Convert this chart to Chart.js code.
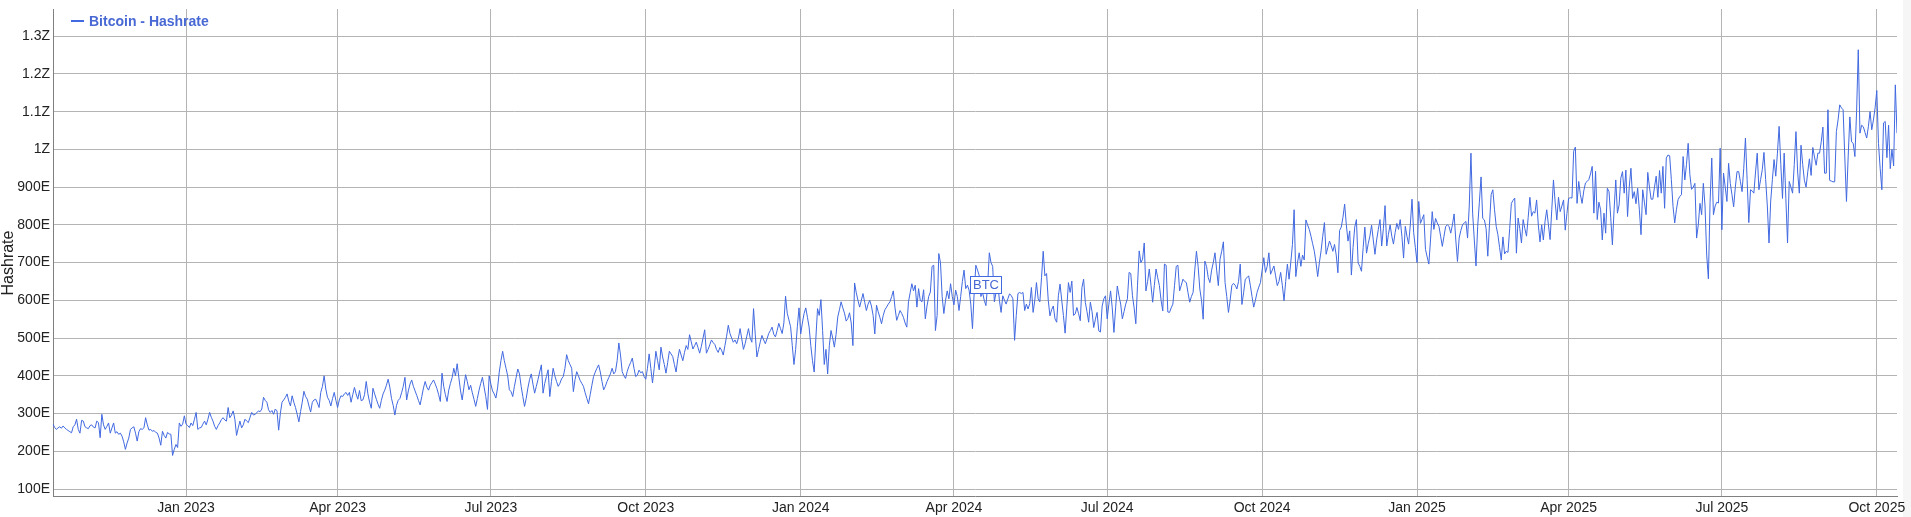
<!DOCTYPE html>
<html><head><meta charset="utf-8">
<script src="https://cdn.jsdelivr.net/npm/chart.js@4.4.1/dist/chart.umd.min.js"></script>
<style>html,body{margin:0;padding:0;background:#fff;overflow:hidden}canvas{display:block}</style>
</head><body>
<canvas id="c" width="1911" height="517"></canvas>
<script>
const startDate = "2022-10-14";
const seriesName = "Bitcoin - Hashrate";
const axisTitle = "Hashrate";
const tickDates = ["2023-01-01","2023-04-01","2023-07-01","2023-10-01","2024-01-01","2024-04-01","2024-07-01","2024-10-01","2025-01-01","2025-04-01","2025-07-01","2025-10-01"];
const tickLabels = ["Jan 2023","Apr 2023","Jul 2023","Oct 2023","Jan 2024","Apr 2024","Jul 2024","Oct 2024","Jan 2025","Apr 2025","Jul 2025","Oct 2025"];
const yTicks = [100,200,300,400,500,600,700,800,900,1000,1100,1200,1300];
const yTickLabels = ["100E","200E","300E","400E","500E","600E","700E","800E","900E","1Z","1.1Z","1.2Z","1.3Z"];
const markerDate = "2024-04-20";
const markerValue = 642;
const markerText = "BTC";

const hashrate2022 = [
272,263,258,262,265,261,267,262,258,255,
252,249,265,270,285,258,248,282,280,265,
262,260,268,270,264,262,280,276,236,298,
270,258,266,275,248,262,275,248,252,245,
248,240,225,205,222,235,258,262,265,248,
227,252,260,258,262,289,270,256,258,253,
255,250,248,235,216,253,242,235,250,246,
245,189,205,218,210,275,266,272,294];

const hashrate2023 = [
272,268,263,275,268,285,303,258,262,263,
272,280,270,285,303,290,280,266,258,268,
275,284,289,283,280,316,289,296,307,285,
242,262,280,262,270,285,280,276,290,303,
296,298,302,307,305,312,343,335,330,310,
303,308,298,312,307,256,300,330,336,343,
352,333,320,347,330,316,298,278,305,330,
359,345,338,320,304,330,336,338,328,316,
356,372,400,365,343,335,320,340,356,335,
316,336,347,345,352,356,348,356,330,350,
369,352,338,361,334,336,350,385,352,330,
314,367,352,338,325,314,335,352,362,375,
391,370,340,322,296,322,335,340,355,372,
396,336,360,378,389,372,360,348,335,323,
345,368,385,370,362,375,382,389,378,366,
350,332,407,372,350,332,362,380,395,420,
400,432,395,360,336,370,403,385,363,375,
355,338,319,340,362,380,396,370,345,311,
400,378,360,352,341,368,410,440,465,440,
420,400,363,358,345,372,395,418,405,372,
345,319,340,368,390,405,378,354,372,390,
410,429,354,380,398,416,345,385,420,400,
385,372,380,392,398,420,456,440,430,420,
358,390,411,400,388,380,372,355,340,326,
350,375,398,410,420,429,410,385,363,372,
385,395,405,420,405,411,440,487,455,411,
400,393,412,425,435,447,420,398,402,415,
408,411,398,391,420,458,420,381,420,465,
440,416,476,450,430,407,435,465,458,451,
430,410,445,470,455,440,462,480,470,509,
490,471,480,489,475,460,478,500,522,460,
470,482,495,488,483,470,462,475,468,455,
480,505,534,512,500,489,495,485,500,525,
498,470,485,505,525,500,489,578,510,450,
470,490,507,495,485,498,512,520,529,510,
503,520,539,525,512,540,611,566,548,530,
480,430,470,530,580];

const hashrate2024 = [
511,540,565,580,555,529,480,440,410,500,
578,560,602,520,430,470,405,480,520,500,
476,510,556,575,596,580,566,545,552,567,
540,480,646,620,600,582,600,618,595,573,
590,600,585,560,511,587,570,555,538,560,
575,582,590,596,610,625,580,547,560,573,
565,555,540,529,596,620,644,625,640,582,
631,600,596,628,551,585,610,622,690,693,
520,560,724,700,610,565,600,625,604,644,
610,588,627,610,573,610,650,680,631,640,
627,590,525,620,693,680,666,610,621,600,
586,640,726,700,690,596,621,647,600,568,
612,600,590,604,617,613,604,494,560,618,
621,618,621,573,590,577,591,634,568,600,
647,604,596,660,730,665,671,600,559,575,
585,551,542,612,643,600,560,513,580,647,
621,651,560,564,581,565,546,634,656,595,
570,542,595,570,528,550,568,519,516,585,
604,612,551,590,625,580,515,580,638,612,
590,551,570,590,604,674,671,612,580,538,
640,731,700,709,752,625,650,683,640,595,
640,683,660,639,600,572,696,693,569,568,
580,590,640,690,693,625,640,656,650,647,
620,595,610,621,680,730,690,630,600,550,
704,690,660,647,680,700,726,680,639,709,
730,755,647,610,568,600,639,645,640,630,
650,696,589,620,656,660,665,640,610,582,
600,621,635,647,680,713,674,690,726,669,
680,691,665,639,650,674,640,599,650,696,
656,700,748,840,663,700,726,690,720,707,
813,800,788,770,750,730,700,663,700,731,
770,806,722,740,757,745,730,748,720,673,
785,794,820,855,800,757,784,667,740,794,
814,699,690,677,740,794,725,750,770,799,
760,722,760,788,814,744,790,851,744,775,
800,770,749,780,804,788,814,770,712,796,
770,749,800,868,779,740];

const hashrate2025 = [
700,862,804,815,827,735,715,696,760,835,
788,817,805,796,770,743,770,796,800,796,
778,800,829,760,703,765,785,800,805,809,
765,850,990,831,760,691,796,860,927,817,
813,790,717,800,880,893,840,796,774,740,
707,768,723,730,727,790,857,865,871,725,
818,790,752,814,790,770,820,873,823,835,
831,866,800,755,800,760,809,840,800,761,
840,919,860,813,873,835,850,866,786,830,
870,872,871,995,1006,857,915,880,857,890,
911,915,920,935,955,831,942,814,860,840,
760,831,778,897,888,820,747,840,919,831,
853,924,941,884,945,822,900,950,870,888,
856,897,840,774,893,860,827,939,900,868,
868,900,929,873,944,884,955,844,977,985,
983,920,849,805,840,867,875,880,981,919,
960,1016,933,894,900,910,765,800,857,827,
910,850,720,657,860,977,827,850,860,858,
1003,787,937,900,862,963,910,880,848,900,
941,941,915,888,950,1030,920,806,893,890,
884,940,990,893,920,946,992,920,850,752,
863,920,973,929,990,1061,960,870,990,870,
752,915,900,884,960,1047,940,884,1011,960,
918,900,940,975,931,1005,980,958,990,990,
1020,1059,937,937,1105,918,916,914,914,1047,
1078,1118,1110,1105,980,862,980,1086,1020,1016,
981,1100,1264,1043,1064,1060,1045,1030,1060,1100,
1052,1078,1110,1156,1016,950,893,1070,1074,978,
1064,949,1000,956,1171,1043];

const hashrate = [].concat(hashrate2022, hashrate2023, hashrate2024, hashrate2025);
const dayIndex = d => Math.round((Date.parse(d) - Date.parse(startDate)) / 86400000);
const points = hashrate.map((v, i) => ({x: i, y: v}));

const BLUE = 'rgb(65,105,225)';
const TEXT_BLUE = 'rgb(72,104,212)';
const FONT = '"Liberation Sans", Arial, sans-serif';

const overlay = {
  id: 'overlay',
  beforeDraw(chart) {
    const ctx = chart.ctx;
    ctx.save();
    ctx.fillStyle = '#ffffff';
    ctx.fillRect(0, 0, chart.width, chart.height);
    ctx.fillStyle = '#f6f6f6';
    ctx.fillRect(1903, 0, chart.width - 1903, chart.height);
    ctx.restore();
  },
  afterDraw(chart) {
    const ctx = chart.ctx;
    const xs = chart.scales.x, ys = chart.scales.y;
    ctx.save();
    ctx.strokeStyle = BLUE;
    ctx.lineWidth = 2;
    ctx.beginPath(); ctx.moveTo(71, 21); ctx.lineTo(84, 21); ctx.stroke();
    ctx.fillStyle = TEXT_BLUE;
    ctx.font = 'bold 14px ' + FONT;
    ctx.textAlign = 'left'; ctx.textBaseline = 'alphabetic';
    ctx.fillText(seriesName, 89, 26);
    ctx.save();
    ctx.translate(12.5, 263);
    ctx.rotate(-Math.PI / 2);
    ctx.fillStyle = '#222';
    ctx.font = '16px ' + FONT;
    ctx.textAlign = 'center';
    ctx.fillText(axisTitle, 0, 0);
    ctx.restore();
    const mx = xs.getPixelForValue(dayIndex(markerDate));
    const my = ys.getPixelForValue(markerValue);
    const w = 31, h = 17;
    const bx = Math.round(mx - w / 2) + 0.5, by = Math.round(my - h / 2) + 0.5;
    ctx.fillStyle = '#fff';
    ctx.fillRect(bx, by, w, h);
    ctx.strokeStyle = BLUE; ctx.lineWidth = 1;
    ctx.strokeRect(bx, by, w, h);
    ctx.fillStyle = TEXT_BLUE;
    ctx.font = '13px ' + FONT;
    ctx.textAlign = 'center'; ctx.textBaseline = 'middle';
    ctx.fillText(markerText, bx + w / 2, by + h / 2 + 0.5);
    ctx.restore();
  }
};

new Chart(document.getElementById('c'), {
  type: 'line',
  data: {
    datasets: [{
      label: seriesName,
      data: points,
      borderColor: BLUE,
      borderWidth: 1,
      pointRadius: 0,
      tension: 0,
      fill: false
    }]
  },
  options: {
    responsive: false,
    animation: false,
    devicePixelRatio: 1,
    parsing: false,
    layout: { padding: { top: 9, right: 14, left: 0, bottom: 0 } },
    plugins: { legend: { display: false }, tooltip: { enabled: false } },
    scales: {
      x: {
        type: 'linear',
        min: 0,
        max: hashrate.length - 1,
        afterBuildTicks(s) { s.ticks = tickDates.map(d => ({ value: dayIndex(d) })); },
        afterFit(s) { s.height = 21; s.paddingLeft = 0; s.paddingRight = 0; },
        ticks: {
          autoSkip: false, maxRotation: 0, minRotation: 0, padding: 4,
          color: '#222', font: { family: FONT, size: 14 },
          callback: (v, i) => tickLabels[i]
        },
        grid: { color: '#b4b4b4', lineWidth: 1, drawTicks: false },
        border: { display: true, color: '#808080', width: 1 }
      },
      y: {
        type: 'linear',
        min: 81.5,
        max: 1372,
        afterBuildTicks(s) { s.ticks = yTicks.map(v => ({ value: v })); },
        afterFit(s) { s.width = 53; s.paddingTop = 0; s.paddingBottom = 0; },
        ticks: {
          padding: 3, color: '#222', font: { family: FONT, size: 14 },
          callback: (v, i) => yTickLabels[i]
        },
        grid: { color: '#b4b4b4', lineWidth: 1, drawTicks: false },
        border: { display: true, color: '#808080', width: 1 }
      }
    }
  },
  plugins: [overlay]
});
</script>
</body></html>
